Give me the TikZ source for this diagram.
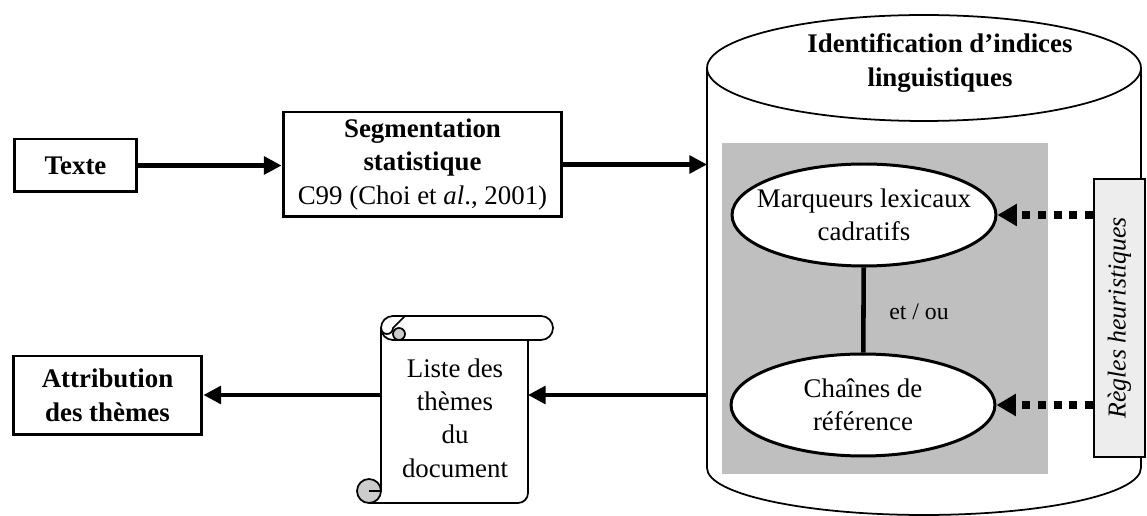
\documentclass[tikz,border=0pt]{standalone}
\usepackage{fontspec}
\setmainfont{Liberation Serif}
\usetikzlibrary{arrows.meta}
\usetikzlibrary{shapes.geometric}

\begin{document}
\begin{tikzpicture}[x = 0.02cm, y = -0.02cm,
  every node/.style = {font = \fontsize{15.3pt}{19pt}\selectfont, align = center},
  gras/.style = {font = \fontsize{15.3pt}{19pt}\selectfont\bfseries},
  box/.style = {draw, line width = 1.7pt, inner sep = 0pt},
  bulle/.style = {ellipse, draw, fill = white, line width = 1.7pt,
    minimum width = 5.28cm, minimum height = 2.04cm,
    inner xsep = -9pt, inner ysep = 0pt},
  scroll/.style = {line width = 1pt, line join = round},
  flow/.style = {line width = 2.3pt, -{Triangle[length = 10pt, width = 10pt]}},
  hint/.style = {line width = 4pt, dash pattern = on 4.5pt off 4.5pt,
    -{Triangle[length = 11pt, width = 12pt]}}]
  \useasboundingbox (0, 0) rectangle (1147, 516);

  % cylinder
  \fill[white] (707, 68) -- (707, 468)
  arc[start angle = 180, end angle = 360, x radius = 4.34cm, y radius = 0.94cm]
  -- (1141, 68) -- cycle;
  \draw[line width = 1pt] (707, 68) -- (707, 468)
  arc[start angle = 180, end angle = 360, x radius = 4.34cm, y radius = 0.94cm]
  -- (1141, 68);
  \draw[line width = 1pt, fill = white] (924, 68)
  ellipse[x radius = 4.34cm, y radius = 1.06cm];
  \node[gras] (titre) at (940, 63) {Identification d’indices\\linguistiques};
  \coordinate (cylin) at (707, 167);
  \coordinate (cylout) at (707, 395);

  \fill[black!25] (722, 143) rectangle (1048, 474);

  \node[bulle] (marq) at (864, 215) {Marqueurs lexicaux\\cadratifs};
  \node[bulle] (chaines) at (863, 405) {Chaînes de\\référence};
  \draw[line width = 2.6pt] (marq) -- (chaines);
  \node[font = \fontsize{13.5pt}{15pt}\selectfont] (etou) at (919, 312) {et / ou};

  \node[draw, line width = 1pt, fill = black!7, rotate = 90, inner sep = 0pt,
  minimum width = 5.56cm, minimum height = 1.02cm,
  font = \fontsize{14.7pt}{18pt}\selectfont\itshape] (regles) at (1119.5, 318)
  {Règles heuristiques};
  \draw[hint] (regles.north |- marq.east) -- (marq.east);
  \draw[hint] (regles.north |- chaines.east) -- (chaines.east);

  % boxes on the left
  \node[box, gras, minimum width = 2.46cm, minimum height = 1.06cm]
  (texte) at (75.5, 165.5) {Texte};
  \node[box, minimum width = 5.58cm, minimum height = 2.1cm] (segm) at (422.5, 164.5)
  {\textbf{Segmentation}\\\textbf{statistique}\\C99 (Choi et \textit{al}., 2001)};
  \node[box, gras, minimum width = 3.78cm, minimum height = 1.58cm]
  (attrib) at (107.5, 395.5) {Attribution\\des thèmes};

  % scroll
  \fill[white] (381, 340) rectangle (528, 503);
  \draw[scroll] (528, 340) -- (528, 493)
  arc[start angle = 0, end angle = -90, radius = 0.2cm] -- (369, 503);
  \draw[scroll] (381, 330) -- (381, 491);
  \draw[scroll, fill = white, rounded corners = 0.24cm] (381, 316) rectangle (553, 340);
  \draw[scroll] (381, 328) arc[start angle = 180, end angle = 360, radius = 0.12cm]
  -- (405, 316);
  \draw[scroll, fill = black!20] (399, 334) circle[radius = 0.12cm];
  \draw[scroll, fill = black!20] (369, 491) circle[radius = 0.24cm];
  \draw[scroll] (369, 491) -- (381, 491);
  \node (liste) at (455, 418) {Liste des\\thèmes\\du\\document};
  \coordinate (listee) at (528, 395);
  \coordinate (listew) at (381, 395);

  \draw[flow] (texte) -- (texte -| segm.west);
  \draw[flow] (segm.east) -- (segm.east -| cylin);
  \draw[flow] (cylout) -- (listee);
  \draw[flow] (listew) -- (listew -| attrib.east);
\end{tikzpicture}
\end{document}
